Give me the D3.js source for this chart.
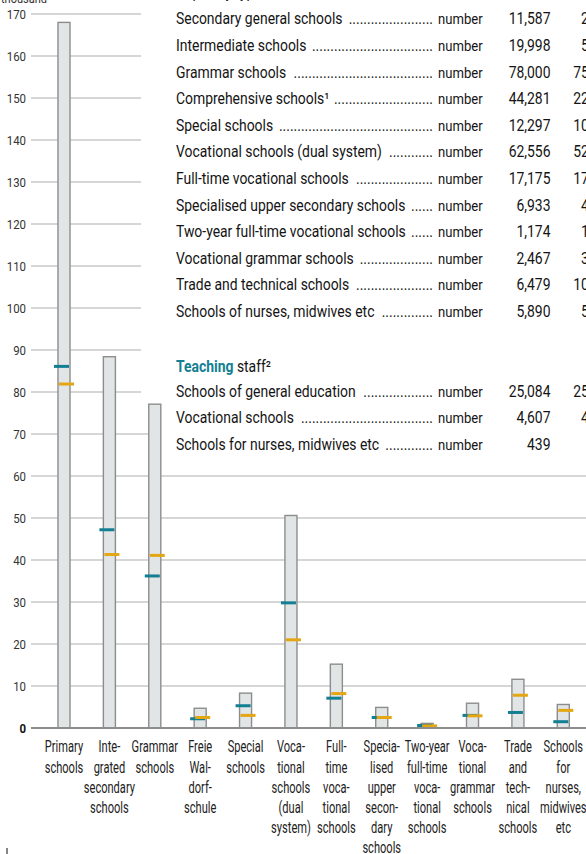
<!DOCTYPE html>
<html>
<head>
<meta charset="utf-8">
<script src="https://cdn.jsdelivr.net/npm/d3@7"></script>
<style>
  html, body { margin: 0; padding: 0; background: #fff; }
  svg { display: block; }
  text { font-family: Roboto, 'Open Sans', 'DejaVu Sans', sans-serif; }
</style>
</head>
<body>
<div id="chart"></div>
<script>
"use strict"

//------------------------1. DATA------------------------//
const categories = ["primary", "integrated", "grammar", "waldorf", "special", "vocDual",
    "fullTime", "specialised", "twoYear", "vocGrammar", "trade", "nurses"];
const categoryLabels = [
    ["Primary", "schools"],
    ["Inte-", "grated", "secondary", "schools"],
    ["Grammar", "schools"],
    ["Freie", "Wal-", "dorf-", "schule"],
    ["Special", "schools"],
    ["Voca-", "tional", "schools", "(dual", "system)"],
    ["Full-", "time", "voca-", "tional", "schools"],
    ["Specia-", "lised", "upper", "secon-", "dary", "schools"],
    ["Two-year", "full-time", "voca-", "tional", "schools"],
    ["Voca-", "tional", "grammar", "schools"],
    ["Trade", "and", "tech-", "nical", "schools"],
    ["Schools", "for", "nurses,", "midwives", "etc"]
];
// grey bars (thousand)
const barValues = [168, 88.4, 77.1, 4.7, 8.3, 50.6, 15.2, 4.9, 1.1, 5.9, 11.6, 5.6];
// teal marks
const tealValues = [86.1, 47.2, 36.2, 2.2, 5.3, 29.8, 7.1, 2.5, 0.6, 3.0, 3.7, 1.5];
// yellow marks
const yellowValues = [81.9, 41.3, 41.1, 2.5, 3.0, 21.0, 8.2, 2.5, 0.5, 2.9, 7.8, 4.2];

const yTicks = [0, 10, 20, 30, 40, 50, 60, 70, 80, 90, 100, 110, 120, 130, 140, 150, 160, 170];

// table rows
const tableLabels = ["Secondary general schools", "Intermediate schools", "Grammar schools",
    "Comprehensive schools¹", "Special schools", "Vocational schools (dual system)",
    "Full-time vocational schools", "Specialised upper secondary schools",
    "Two-year full-time vocational schools", "Vocational grammar schools",
    "Trade and technical schools", "Schools of nurses, midwives etc"];
const tableValues1 = ["11,587", "19,998", "78,000", "44,281", "12,297", "62,556",
    "17,175", "6,933", "1,174", "2,467", "6,479", "5,890"];
const tableValues2 = ["2,741", "5,306", "75,120", "22,480", "10,315", "52,604",
    "17,012", "4,388", "1,206", "3,115", "10,047", "5,512"];
const staffLabels = ["Schools of general education", "Vocational schools", "Schools for nurses, midwives etc"];
const staffValues1 = ["25,084", "4,607", "439"];
const staffValues2 = ["25,310", "4,562", "451"];

//------------------------2. SETUP------------------------//
const width = 586, height = 854;
const teal = "#137f93", yellow = "#e4a612";
const ink = "#141414";

const svg = d3.select("#chart").append("svg")
    .attr("width", width)
    .attr("height", height);

// the original uses a condensed face; squeeze a normal one horizontally
const measure = (str, size) => {
    const t = svg.append("text").attr("font-size", size).text(str);
    const w = t.node().getComputedTextLength();
    t.remove();
    return w;
};
const tableSize = 16, labelSize = 16, tickSize = 13.5;
const SX = 166.6 / measure("Secondary general schools", tableSize);
const SXL = 38.3 / measure("Primary", labelSize);
const SXT = 19.3 / measure("170", tickSize);

const cText = (sel, str, x, y, anchor = "start", sx = SX) => sel.append("text")
    .attr("transform", `translate(${x},${y}) scale(${sx},1)`)
    .attr("text-anchor", anchor)
    .text(str);

const x = d3.scaleBand().domain(categories).range([41.3, 586]).paddingInner(0.735).paddingOuter(0.3675);
const y = d3.scaleLinear().domain([0, 170]).range([728, 14]);

// gridlines (upper ones stop short of the table)
const gridEnd = v => v >= 80 ? 141 : (v === 70 ? 160 : width);
svg.append("g").selectAll("line")
    .data(yTicks.filter(d => d > 0))
    .join("line")
    .attr("x1", 31).attr("x2", d => gridEnd(d))
    .attr("y1", d => y(d)).attr("y2", d => y(d))
    .attr("stroke", "#c8c8c8").attr("stroke-width", 1.5);

// y axis labels
const yAxis = svg.append("g")
    .attr("transform", "translate(31,0)")
    .call(d3.axisLeft(y).tickValues(yTicks).tickSize(0).tickPadding(6));
yAxis.select(".domain").remove();
yAxis.selectAll("text")
    .attr("x", 0)
    .attr("transform", `translate(-5,0) scale(${SXT},1)`)
    .attr("font-size", tickSize)
    .attr("fill", "#333")
    .attr("font-weight", d => d === 0 ? "bold" : "normal")
    .style("font-family", null);
yAxis.selectAll("text").filter(d => d === 0).attr("fill", ink);

cText(svg, "thousand", 1, 3, "start", SXT).attr("font-size", 13).attr("fill", "#333");

//------------------------3. BARS------------------------//
svg.append("g").selectAll("rect")
    .data(categories)
    .join("rect")
    .attr("x", d => x(d))
    .attr("width", x.bandwidth())
    .attr("y", (d, i) => y(barValues[i]))
    .attr("height", (d, i) => y(0) - y(barValues[i]))
    .attr("fill", "#e2e5e6")
    .attr("stroke", "#8d8d8d")
    .attr("stroke-width", 1.4);

const markW = 15, markH = 3;
const drawMarks = (values, color, offset) => {
    svg.append("g").selectAll("rect")
        .data(categories)
        .join("rect")
        .attr("x", d => x(d) + x.bandwidth() / 2 + offset - markW / 2)
        .attr("y", (d, i) => y(values[i]) - markH / 2)
        .attr("width", markW)
        .attr("height", markH)
        .attr("fill", color);
};
drawMarks(tealValues, teal, -2.5);
drawMarks(yellowValues, yellow, 2.5);

// baseline
svg.append("line")
    .attr("x1", 31).attr("x2", width)
    .attr("y1", y(0)).attr("y2", y(0))
    .attr("stroke", "#8d8d8d").attr("stroke-width", 2);

// category labels
const xLab = svg.append("g");
categories.forEach((c, i) => {
    const t = xLab.append("text")
        .attr("transform", `translate(${x(c) + x.bandwidth() / 2},0) scale(${SXL},1)`)
        .attr("text-anchor", "middle")
        .attr("font-size", labelSize)
        .attr("fill", "#222");
    categoryLabels[i].forEach((line, j) => {
        t.append("tspan")
            .attr("x", 0)
            .attr("y", 752.5 + j * 20.2)
            .text(line);
    });
});

//------------------------4. TABLE------------------------//
const colLabel = 176, colLeaderEnd = 433, colUnit = 438, colVal1 = 550.5, colVal2 = 615;
const rowStep = 26.6;
const tbl = svg.append("g").attr("font-size", tableSize).attr("fill", ink);

const dotW = measure("..........", tableSize) / 10 * SX;

const drawRow = (label, v1, v2, yy) => {
    const lab = cText(tbl, label, colLabel, yy);
    const end = colLabel + lab.node().getComputedTextLength() * SX + 4;
    const n = Math.max(0, Math.floor((colLeaderEnd - end) / dotW));
    cText(tbl, ".".repeat(n), colLeaderEnd, yy, "end");
    cText(tbl, "number", colUnit, yy).attr("font-size", tableSize * 0.94);
    cText(tbl, v1, colVal1, yy, "end");
    cText(tbl, v2, colVal2, yy, "end");
};

// heading cut at the top edge
cText(tbl, "Pupils by type of school", colLabel, 24.3 - rowStep);

tableLabels.forEach((l, i) => drawRow(l, tableValues1[i], tableValues2[i], 24.3 + i * rowStep));

const head = cText(tbl, "", colLabel, 371.5);
head.append("tspan").attr("fill", teal).attr("font-weight", "bold").text("Teaching");
head.append("tspan").text(" staff²");

staffLabels.forEach((l, i) => drawRow(l, staffValues1[i], staffValues2[i], 396.7 + i * rowStep));

// small mark at the bottom left edge
svg.append("line")
    .attr("x1", 7).attr("x2", 7).attr("y1", 848).attr("y2", 854)
    .attr("stroke", "#333").attr("stroke-width", 1.2);
</script>
</body>
</html>
